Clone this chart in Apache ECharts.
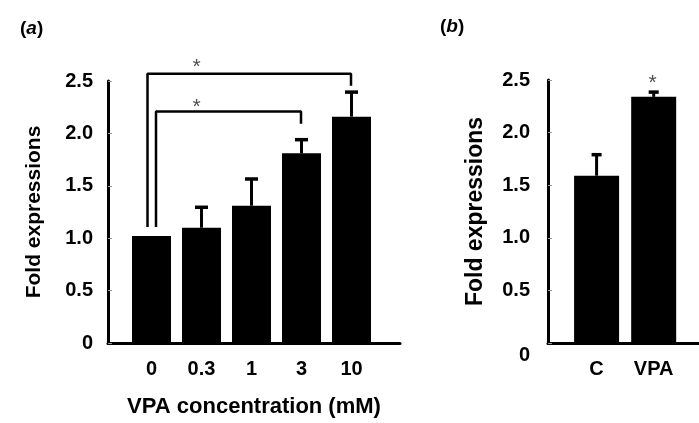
<!DOCTYPE html>
<html>
<head>
<meta charset="utf-8">
<script src="https://cdn.jsdelivr.net/npm/echarts@6/dist/echarts.min.js"></script>
<style>
html,body{margin:0;padding:0;background:#fff;}
#c{width:699px;height:423px;}
</style>
</head>
<body>
<div id="c"></div>
<script>
// ---- data ----
const catsA = ['0', '0.3', '1', '3', '10'];
const meanA = [1.02, 1.10, 1.31, 1.81, 2.16];
const sdA   = [0, 0.195, 0.255, 0.13, 0.234];
const catsB = ['C', 'VPA'];
const meanB = [1.59, 2.34];
const sdB   = [0.20, 0.045];
const yTicks = [0, 0.5, 1.0, 1.5, 2.0, 2.5];
// significance brackets (panel a): [leftX, rightX, topY, leftBottomY, rightBottomY]
const bracket1 = [-0.08, 3.99, 2.57, 1.106, 2.454];
const bracket2 = [0.09, 2.99, 2.208, 1.106, 2.091];
// stars: [x, y]
const starsA = [[0.9, 2.677], [0.9, 2.298]];
const starsB = [[0.98, 2.52]];

const FONT = '"Liberation Sans", Arial, sans-serif';

function bracketPts(b) {
  return [[b[0], b[3]], [b[0], b[2]], [b[1], b[2]], [b[1], b[4]]];
}
function errRender(capW) {
  return function (params, api) {
    const x = api.value(0), m = api.value(1), s = api.value(2);
    if (!s) return null;
    const p0 = api.coord([x, m]), p1 = api.coord([x, m + s]);
    const h = capW / 2;
    return {
      type: 'group',
      children: [
        { type: 'line', shape: { x1: p0[0], y1: p0[1], x2: p1[0], y2: p1[1] }, style: { stroke: '#000', lineWidth: 3 } },
        { type: 'line', shape: { x1: p1[0] - h, y1: p1[1], x2: p1[0] + h, y2: p1[1] }, style: { stroke: '#000', lineWidth: 3.5 } }
      ]
    };
  };
}
function yAxisCfg(gridIndex, nameGap, nameSize, margin, lowerZero) {
  return {
    type: 'value', gridIndex: gridIndex, min: yTicks[0], max: yTicks[yTicks.length - 1], interval: 0.5,
    name: 'Fold expressions', nameLocation: 'middle', nameGap: nameGap, nameRotate: 90,
    nameTextStyle: { fontFamily: FONT, fontWeight: 'bold', fontSize: nameSize, color: '#000' },
    axisLine: { show: true, onZero: false, lineStyle: { color: '#000', width: 3 } },
    axisTick: { show: true, inside: true, length: 4, lineStyle: { color: '#999', width: 1 } },
    splitLine: { show: false },
    axisLabel: {
      margin: margin, fontFamily: FONT, fontWeight: 'bold', fontSize: 20, color: '#000',
      formatter: function (v) {
        if (v === 0) return lowerZero ? '{z|0}' : '0';
        return v.toFixed(1);
      },
      rich: { z: { fontFamily: FONT, fontWeight: 'bold', fontSize: 20, color: '#000', padding: [24, 0, 0, 0] } }
    }
  };
}

const chart = echarts.init(document.getElementById('c'), null, { renderer: 'canvas' });
const option = {
  animation: false,
  backgroundColor: '#fff',
  title: [
    { text: '{p|(}{i|a}{p|)}', left: 15, top: 14,
      textStyle: { rich: { p: { fontFamily: FONT, fontWeight: 'bold', fontSize: 19, color: '#000' },
                           i: { fontFamily: FONT, fontWeight: 'bold', fontStyle: 'italic', fontSize: 19, color: '#000' } } } },
    { text: '{p|(}{i|b}{p|)}', left: 435, top: 12,
      textStyle: { rich: { p: { fontFamily: FONT, fontWeight: 'bold', fontSize: 19, color: '#000' },
                           i: { fontFamily: FONT, fontWeight: 'bold', fontStyle: 'italic', fontSize: 19, color: '#000' } } } }
  ],
  grid: [
    { left: 108, top: 81, width: 292, height: 262 },
    { left: 548, top: 80, width: 160, height: 263 }
  ],
  xAxis: [
    { type: 'value', gridIndex: 0, min: -0.87, max: 4.97,
      name: 'VPA concentration (mM)', nameLocation: 'middle', nameGap: 53,
      nameTextStyle: { fontFamily: FONT, fontWeight: 'bold', fontSize: 22, color: '#000' },
      axisLine: { show: true, onZero: false, lineStyle: { color: '#000', width: 3 } },
      axisTick: { show: false }, splitLine: { show: false },
      axisLabel: { customValues: [0, 1, 2, 3, 4], margin: 16, fontFamily: FONT, fontWeight: 'bold', fontSize: 20, color: '#000',
        formatter: function (v) { return catsA[Math.round(v)] || ''; } } },
    { type: 'value', gridIndex: 1, min: -0.851, max: -0.851 + 160 / 60.5,
      axisLine: { show: true, onZero: false, lineStyle: { color: '#000', width: 3 } },
      axisTick: { show: false }, splitLine: { show: false },
      axisLabel: { customValues: [0, 1], margin: 16, fontFamily: FONT, fontWeight: 'bold', fontSize: 20, color: '#000',
        formatter: function (v) { return catsB[Math.round(v)] || ''; } } }
  ],
  yAxis: [
    yAxisCfg(0, 63, 21, 15, false),
    yAxisCfg(1, 61, 23, 18, true)
  ],
  series: [
    { type: 'bar', xAxisIndex: 0, yAxisIndex: 0, barWidth: 39, itemStyle: { color: '#000' },
      data: meanA.map(function (v, i) { return [i, v]; }) },
    { type: 'custom', xAxisIndex: 0, yAxisIndex: 0, clip: false, renderItem: errRender(13),
      data: meanA.map(function (v, i) { return [i, v, sdA[i]]; }), z: 3 },
    { type: 'line', xAxisIndex: 0, yAxisIndex: 0, symbol: 'none', clip: false, lineStyle: { color: '#000', width: 2.5 },
      data: bracketPts(bracket1) },
    { type: 'line', xAxisIndex: 0, yAxisIndex: 0, symbol: 'none', clip: false, lineStyle: { color: '#000', width: 2.5 },
      data: bracketPts(bracket2) },
    { type: 'scatter', xAxisIndex: 0, yAxisIndex: 0, symbolSize: 0, clip: false, data: starsA,
      label: { show: true, position: 'inside', offset: [0, 5], formatter: '*', fontFamily: FONT, fontSize: 21, color: '#222' } },
    { type: 'bar', xAxisIndex: 1, yAxisIndex: 1, barWidth: 45, itemStyle: { color: '#000' },
      data: meanB.map(function (v, i) { return [i, v]; }) },
    { type: 'custom', xAxisIndex: 1, yAxisIndex: 1, clip: false, renderItem: errRender(10),
      data: meanB.map(function (v, i) { return [i, v, sdB[i]]; }), z: 3 },
    { type: 'scatter', xAxisIndex: 1, yAxisIndex: 1, symbolSize: 0, clip: false, data: starsB,
      label: { show: true, position: 'inside', offset: [0, 5], formatter: '*', fontFamily: FONT, fontSize: 21, color: '#222' } }
  ]
};
chart.setOption(option);
</script>
</body>
</html>
